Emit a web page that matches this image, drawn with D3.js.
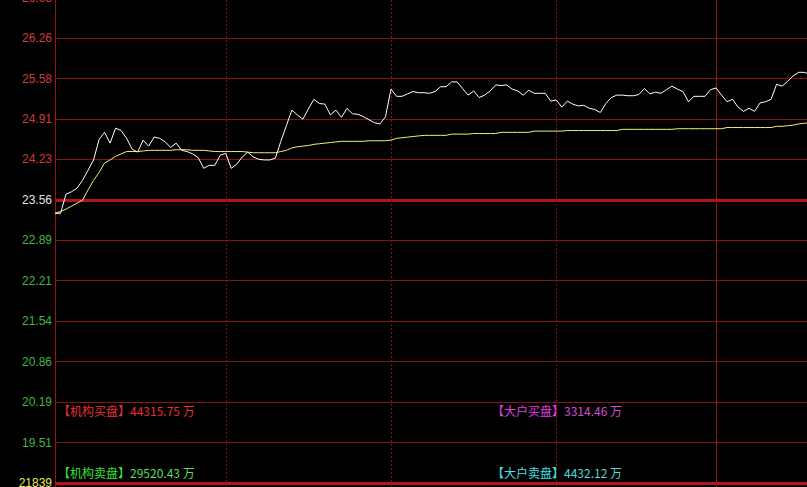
<!DOCTYPE html>
<html><head><meta charset="utf-8">
<script src="https://cdn.jsdelivr.net/npm/d3@7/dist/d3.min.js"></script>
<style>html,body{margin:0;padding:0;background:#000;overflow:hidden}svg{display:block}</style>
</head><body>
<script>
// ---- data ----
const preClose = 23.56;
const tickStep = 0.674;
const tickLabels = ["26.93","26.26","25.58","24.91","24.23","23.56","22.89","22.21","21.54","20.86","20.19","19.51"];
const tickOffsets = [5,4,3,2,1,0,-1,-2,-3,-4,-5,-6];
const price = [23.33,23.33,23.65,23.69,23.75,23.88,24.05,24.22,24.56,24.68,
24.50,24.75,24.71,24.58,24.40,24.35,24.55,24.45,24.60,24.58,
24.52,24.43,24.50,24.38,24.36,24.32,24.26,24.08,24.13,24.13,
24.30,24.33,24.08,24.15,24.27,24.35,24.27,24.23,24.22,24.22,
24.25,24.53,24.79,25.05,24.97,24.90,25.07,25.23,25.16,25.15,
24.97,25.05,24.93,25.08,24.99,24.98,24.94,24.89,24.84,24.82,
24.94,25.40,25.28,25.28,25.32,25.36,25.34,25.34,25.33,25.36,
25.44,25.44,25.52,25.52,25.41,25.30,25.37,25.26,25.30,25.37,
25.47,25.46,25.47,25.40,25.37,25.30,25.38,25.33,25.33,25.33,
25.20,25.22,25.10,25.20,25.15,25.12,25.13,25.08,25.06,25.01,
25.16,25.26,25.30,25.30,25.29,25.29,25.31,25.41,25.32,25.35,
25.33,25.39,25.45,25.40,25.36,25.19,25.28,25.28,25.28,25.39,
25.42,25.30,25.19,25.23,25.10,25.03,25.08,25.03,25.17,25.19,
25.23,25.48,25.45,25.53,25.62,25.68,25.68,25.65];
const avgPrice = [23.33,23.36,23.40,23.45,23.50,23.55,23.72,23.88,24.01,24.17,
24.22,24.28,24.32,24.36,24.36,24.36,24.37,24.38,24.38,24.38,
24.38,24.38,24.39,24.39,24.39,24.38,24.38,24.38,24.37,24.36,
24.36,24.36,24.36,24.36,24.36,24.35,24.34,24.34,24.34,24.34,
24.34,24.36,24.38,24.42,24.44,24.45,24.46,24.48,24.49,24.50,
24.51,24.52,24.53,24.53,24.53,24.53,24.53,24.54,24.54,24.54,
24.54,24.55,24.58,24.59,24.60,24.61,24.62,24.63,24.63,24.63,
24.63,24.63,24.65,24.65,24.65,24.65,24.66,24.66,24.66,24.66,
24.66,24.68,24.68,24.68,24.68,24.68,24.68,24.70,24.70,24.70,
24.70,24.70,24.70,24.71,24.71,24.71,24.71,24.71,24.71,24.71,
24.71,24.71,24.71,24.73,24.73,24.73,24.73,24.73,24.73,24.73,
24.73,24.73,24.73,24.74,24.74,24.74,24.74,24.74,24.74,24.74,
24.74,24.74,24.76,24.76,24.76,24.76,24.76,24.76,24.76,24.76,
24.76,24.78,24.78,24.79,24.80,24.82,24.83,24.84];
const dottedMinutes = [31, 61, 91];
const solidMinutes = [120];
const volumeLabel = "21839";
const legendNames = ["【机构买盘】","【机构卖盘】","【大户买盘】","【大户卖盘】"];
const legendValues = ["44315.75 万","29520.43 万","3314.46 万","4432.12 万"];

// ---- drawing ----
const W = 807, H = 487;
const svg = d3.select("body").append("svg").attr("width", W).attr("height", H)
  .style("background", "#000");

const x = d3.scaleLinear().domain([0, 120]).range([55, 716]);
const y = d3.scaleLinear().domain([preClose - 7*tickStep, preClose + 5*tickStep]).range([482.7, -2.7]);

const gridColor = "#861212";
const plotLeft = 55;

// horizontal grid
tickOffsets.forEach((k, i) => {
  const v = preClose + k*tickStep;
  const yy = Math.round(y(v)) + 0.5;
  const thick = k === 0;
  svg.append("line").attr("x1", plotLeft).attr("x2", W).attr("y1", yy).attr("y2", yy)
    .attr("stroke", thick ? "#b41414" : gridColor).attr("stroke-width", thick ? 3 : 1);
  svg.append("text").attr("x", 52).attr("y", y(v)).attr("dy", "0.36em")
    .attr("text-anchor", "end").attr("font-family", "Liberation Sans, Arial, sans-serif")
    .attr("font-size", 12)
    .attr("fill", k > 0 ? "#d03c3c" : (k === 0 ? "#e6e6e6" : "#46b446"))
    .text(tickLabels[i]);
});
// bottom separator
const yb = Math.round(y(preClose - 7*tickStep)) + 0.5;
svg.append("line").attr("x1", plotLeft).attr("x2", W).attr("y1", yb).attr("y2", yb)
  .attr("stroke", "#b41414").attr("stroke-width", 3);

// vertical lines
dottedMinutes.forEach(m => {
  const xx = Math.round(x(m)) + 0.5;
  svg.append("line").attr("x1", xx).attr("x2", xx).attr("y1", 0).attr("y2", H)
    .attr("stroke", gridColor).attr("stroke-width", 1).attr("stroke-dasharray", "2,2");
});
solidMinutes.forEach(m => {
  const xx = Math.round(x(m)) + 0.5;
  svg.append("line").attr("x1", xx).attr("x2", xx).attr("y1", 0).attr("y2", H)
    .attr("stroke", "#a01414").attr("stroke-width", 1);
});
svg.append("line").attr("x1", plotLeft + 0.5).attr("x2", plotLeft + 0.5).attr("y1", 0).attr("y2", H)
  .attr("stroke", "#a01414").attr("stroke-width", 1);

// lines
const clip = svg.append("clipPath").attr("id", "clip").append("rect")
  .attr("x", plotLeft).attr("y", 0).attr("width", W - plotLeft).attr("height", H);
const line = d3.line().x((d, i) => x(i)).y(d => y(d));
svg.append("path").datum(avgPrice).attr("d", line).attr("fill", "none")
  .attr("stroke", "#f0f078").attr("stroke-width", 1).attr("clip-path", "url(#clip)");
svg.append("path").datum(price).attr("d", line).attr("fill", "none")
  .attr("stroke", "#ffffff").attr("stroke-width", 1).attr("clip-path", "url(#clip)");

// volume label
svg.append("text").attr("x", 52).attr("y", 486.5).attr("text-anchor", "end")
  .attr("font-family", "Liberation Sans, Arial, sans-serif").attr("font-size", 12)
  .attr("fill", "#e6e664").text(volumeLabel);

// legends
const legendPos = [[58, 411.7], [58, 473.5], [492, 411.7], [492, 473.5]];
const legendColors = [["#e63232","#e63232"],["#32e632","#5adc5a"],["#e040e0","#d050d0"],["#40e0e0","#50d8d8"]];
legendNames.forEach((n, i) => {
  const t = svg.append("text").attr("x", legendPos[i][0]).attr("y", legendPos[i][1]).attr("dy", "0.36em")
    .attr("font-family", "Noto Sans CJK SC, sans-serif").attr("font-size", 12);
  t.append("tspan").attr("fill", legendColors[i][0]).text(n);
  t.append("tspan").attr("fill", legendColors[i][1]).text(legendValues[i]);
});
</script>
</body></html>
